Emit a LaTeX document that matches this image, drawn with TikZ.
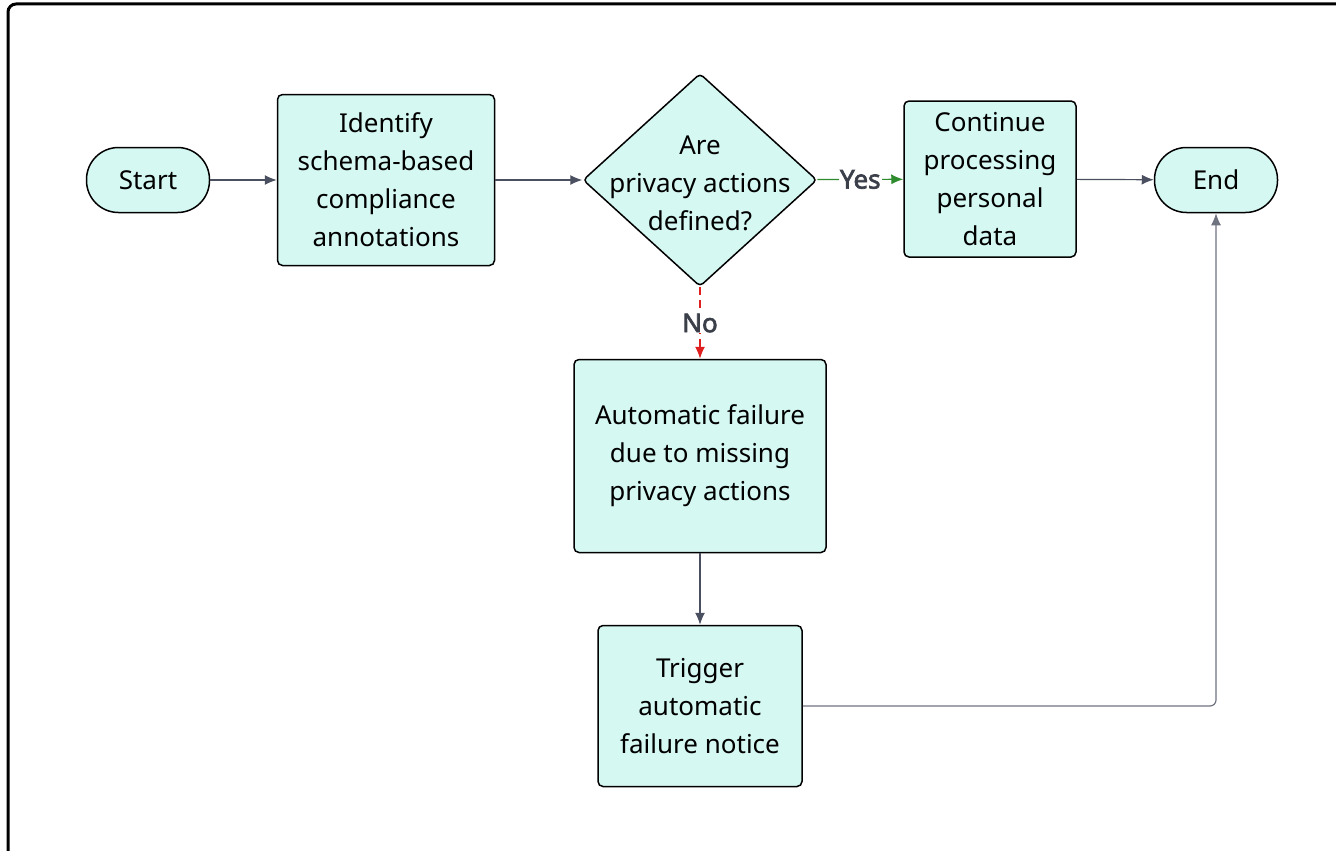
\documentclass[tikz,border=0pt]{standalone}
\usepackage{fontspec}
\setmainfont{Noto Sans}
\newfontfamily\labelfont{Noto Sans}[FakeBold=2.5]
\usetikzlibrary{arrows.meta,shapes.geometric}

\definecolor{boxfill}{HTML}{D6F8F3}
\definecolor{linkgray}{HTML}{4B5060}
\definecolor{labelgray}{HTML}{3A3F4A}
\definecolor{yesgreen}{HTML}{2E8B2E}
\definecolor{nored}{HTML}{E02020}

\newcommand{\flowfont}{\fontsize{26}{38}\selectfont}

\tikzset{
    flowbox/.style={draw=black, line width=1.5pt, fill=boxfill, rounded corners=5pt,
        inner sep=0pt, align=center},
    terminal/.style={flowbox, rounded corners=32pt, minimum width=123pt, minimum height=65pt},
    decision/.style={draw=black, line width=1.5pt, fill=boxfill, diamond, rounded corners=4pt,
        inner sep=0pt, minimum width=234pt, minimum height=213pt},
    link/.style={draw=linkgray, line width=1.2pt, -{Latex[length=12pt,width=10pt]}},
    branchlabel/.style={font=\labelfont\flowfont, text=labelgray, fill=white, inner sep=1pt}
}

\begin{document}
\begin{tikzpicture}[x=1pt, y=-1pt, font=\flowfont]
    \useasboundingbox (0,0) rectangle (1336,851);

    % outer frame, cut off at the page edge
    \begin{scope}
        \clip (0,0) rectangle (1336,851);
        \draw[line width=3pt, rounded corners=8pt] (8,4) rectangle (1370,890);
    \end{scope}

    \node[terminal] (start) at (148,180) {Start};
    \node[flowbox, minimum width=217pt, minimum height=171pt] (identify) at (386,180)
        {Identify\\schema-based\\compliance\\annotations};
    \node[decision] (check) at (700,180) {};
    \node at ([yshift=-3pt]check) [align=center] {Are\\privacy actions\\defined?};
    \node[flowbox, minimum width=172pt, minimum height=156pt] (continue) at (990,179)
        {Continue\\processing\\personal\\data};
    \node[terminal] (end) at (1216,180) {End};
    \node[flowbox, minimum width=252pt, minimum height=193pt] (failure) at (700,456)
        {Automatic failure\\due to missing\\privacy actions};
    \node[flowbox, minimum width=204pt, minimum height=161pt] (notice) at (700,706)
        {Trigger\\automatic\\failure notice};

    \draw[link] (start) -- (identify);
    \draw[link] (identify) -- (check);
    \draw[link, draw=yesgreen, -{Latex[length=12pt,width=10pt,fill=yesgreen]}] (check) --
        node[branchlabel] {Yes} (continue);
    \draw[link, draw=nored, dash pattern=on 8pt off 5pt, -{Latex[length=12pt,width=10pt,fill=nored]}] (check) --
        node[branchlabel] {No} (failure);
    \draw[link] (continue) -- (end);
    \draw[link] (failure) -- (notice);
    \draw[link, draw=linkgray!80, rounded corners=6pt] (notice.east) -| (end.south);

\end{tikzpicture}
\end{document}
